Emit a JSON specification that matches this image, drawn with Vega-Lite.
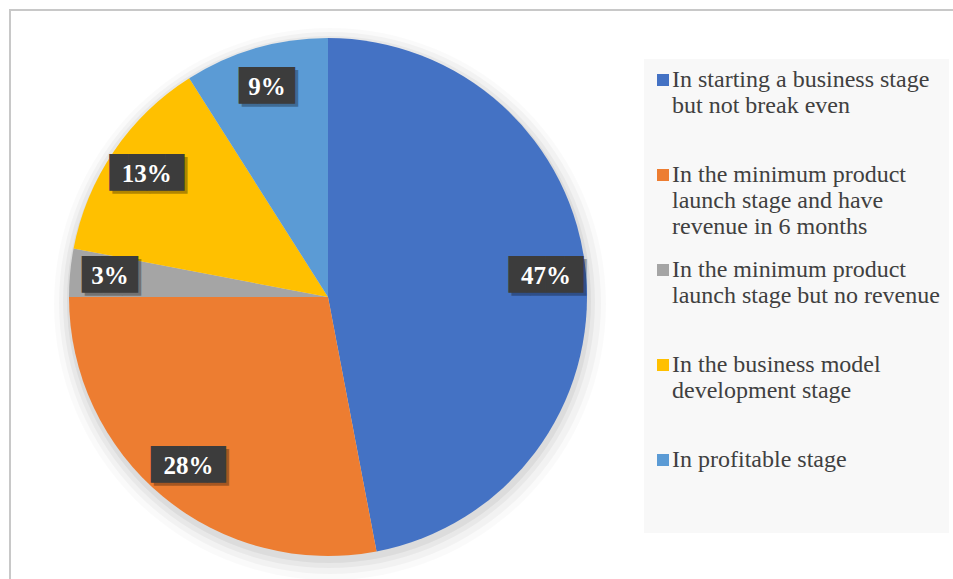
{
  "$schema": "https://vega.github.io/schema/vega-lite/v6.json",
  "width": 946,
  "height": 572,
  "autosize": "none",
  "padding": {"left": 10, "top": 10, "right": -3, "bottom": -3},
  "background": "white",
  "view": {"stroke": "#c8c8c8", "strokeWidth": 2},
  "config": {
    "view": {"stroke": "#c8c8c8", "strokeWidth": 2},
    "legend": {
      "orient": "none",
      "title": null,
      "symbolType": "square",
      "symbolSize": 144,
      "symbolStrokeWidth": 0,
      "symbolOffset": -2,
      "labelFont": "Liberation Serif",
      "labelFontSize": 24,
      "labelColor": "#404040",
      "labelOffset": -3,
      "labelLimit": 500,
      "labelBaseline": "middle",
      "padding": 9,
      "fillColor": "#f8f8f8",
      "rowPadding": 19,
      "gridAlign": "all"
    }
  },
  "data": {
    "values": [
      {"stage": "In starting a business stage but not break even", "pct": 0.47, "idx": 1},
      {"stage": "In the minimum product launch stage and have revenue in 6 months", "pct": 0.28, "idx": 2},
      {"stage": "In the minimum product launch stage but no revenue", "pct": 0.03, "idx": 3},
      {"stage": "In the business model development stage", "pct": 0.13, "idx": 4},
      {"stage": "In profitable stage", "pct": 0.09, "idx": 5}
    ]
  },
  "layer": [
    {
      "transform": [{"aggregate": [{"op": "sum", "field": "pct", "as": "total"}]}],
      "mark": {"type": "arc", "x": 320, "y": 294, "radius": 276, "fill": "#000000", "opacity": 0.02},
      "encoding": {"theta": {"field": "total", "type": "quantitative", "stack": true}}
    },
    {
      "transform": [{"aggregate": [{"op": "sum", "field": "pct", "as": "total"}]}],
      "mark": {"type": "arc", "x": 320, "y": 293, "radius": 271, "fill": "#000000", "opacity": 0.03},
      "encoding": {"theta": {"field": "total", "type": "quantitative", "stack": true}}
    },
    {
      "transform": [{"aggregate": [{"op": "sum", "field": "pct", "as": "total"}]}],
      "mark": {"type": "arc", "x": 319, "y": 292, "radius": 266, "fill": "#000000", "opacity": 0.04},
      "encoding": {"theta": {"field": "total", "type": "quantitative", "stack": true}}
    },
    {
      "transform": [{"aggregate": [{"op": "sum", "field": "pct", "as": "total"}]}],
      "mark": {"type": "arc", "x": 319, "y": 291, "radius": 262, "fill": "#000000", "opacity": 0.05},
      "encoding": {"theta": {"field": "total", "type": "quantitative", "stack": true}}
    },
    {
      "mark": {"type": "arc", "x": 318, "y": 287, "radius": 259, "stroke": null},
      "encoding": {
        "theta": {"field": "pct", "type": "quantitative", "stack": true},
        "order": {"field": "idx", "type": "quantitative"},
        "color": {
          "field": "stage",
          "type": "nominal",
          "scale": {
            "domain": [
              "In starting a business stage but not break even",
              "In the minimum product launch stage and have revenue in 6 months",
              "In the minimum product launch stage but no revenue",
              "In the business model development stage",
              "In profitable stage"
            ],
            "range": ["#4472C4", "#ED7D31", "#A5A5A5", "#FFC000", "#5B9BD5"]
          },
          "legend": {
            "legendX": 634,
            "legendY": 49,
            "labelExpr": "datum.label == 'In starting a business stage but not break even' ? ['In starting a business stage', 'but not break even'] : datum.label == 'In the minimum product launch stage and have revenue in 6 months' ? ['In the minimum product', 'launch stage and have', 'revenue in 6 months'] : datum.label == 'In the minimum product launch stage but no revenue' ? ['In the minimum product', 'launch stage but no revenue'] : datum.label == 'In the business model development stage' ? ['In the business model', 'development stage'] : [datum.label, ' ', ' ']"
          }
        }
      }
    },
    {
      "mark": {"type": "text", "x": 318, "y": 287, "radius": 219, "font": "DejaVu Sans Mono", "fontSize": 31, "baseline": "middle", "align": "center", "color": "#000000", "opacity": 0.3, "dx": 3, "dy": 3},
      "encoding": {
        "theta": {"field": "pct", "type": "quantitative", "stack": true},
        "order": {"field": "idx", "type": "quantitative"},
        "text": {"condition": {"test": "datum.pct >= 0.1", "value": "████"}, "value": "███"}
      }
    },
    {
      "mark": {"type": "text", "x": 318, "y": 287, "radius": 219, "font": "DejaVu Sans Mono", "fontSize": 31, "baseline": "middle", "align": "center", "color": "#3c3c3c"},
      "encoding": {
        "theta": {"field": "pct", "type": "quantitative", "stack": true},
        "order": {"field": "idx", "type": "quantitative"},
        "text": {"condition": {"test": "datum.pct >= 0.1", "value": "████"}, "value": "███"}
      }
    },
    {
      "mark": {"type": "text", "x": 318, "y": 287, "radius": 219, "font": "Liberation Serif", "fontSize": 25, "fontWeight": "bold", "baseline": "middle", "align": "center", "color": "#ffffff"},
      "encoding": {
        "theta": {"field": "pct", "type": "quantitative", "stack": true},
        "order": {"field": "idx", "type": "quantitative"},
        "text": {"field": "pct", "type": "quantitative", "format": ".0%"}
      }
    }
  ]
}
